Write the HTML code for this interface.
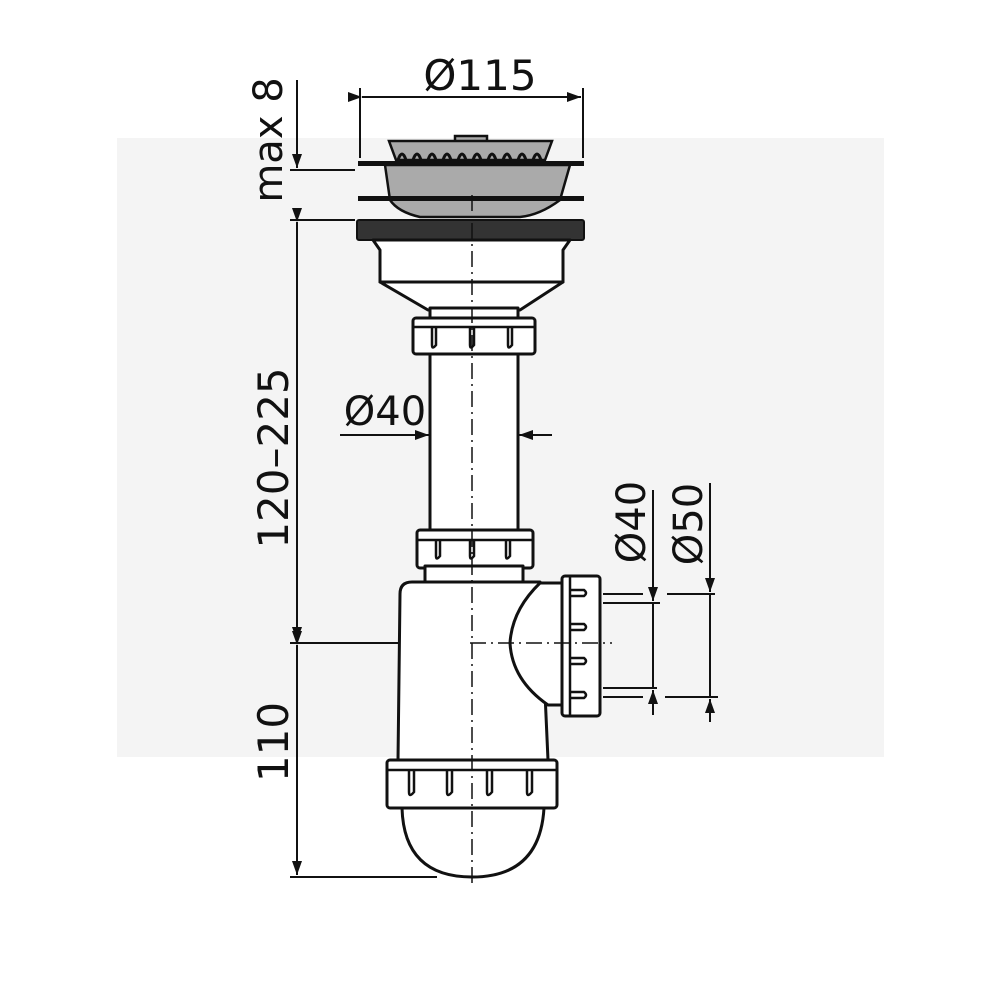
<!DOCTYPE html>
<html><head><meta charset="utf-8"><style>
html,body{margin:0;padding:0;background:#fff}
svg{display:block}
text{font-family:"DejaVu Sans","Liberation Sans",sans-serif;fill:#111}
</style></head><body>
<svg width="1000" height="1000" viewBox="0 0 1000 1000" xmlns="http://www.w3.org/2000/svg">
<defs>
<marker id="a" markerWidth="14" markerHeight="18" refX="14" refY="9" orient="auto" markerUnits="userSpaceOnUse"><path d="M0,4 L14,9 L0,14 Z" fill="#111"/></marker>
</defs>
<rect x="117" y="138" width="767" height="619" fill="#f4f4f4"/>
<g stroke="#111" fill="none" stroke-width="2">
<line x1="360" y1="88" x2="360" y2="158"/><line x1="583" y1="88" x2="583" y2="158"/>
<line x1="362" y1="97" x2="581" y2="97" marker-start="url(#a)" marker-end="url(#a)"/>
<line x1="297" y1="80" x2="297" y2="168" marker-end="url(#a)"/>
<line x1="290" y1="170" x2="355" y2="170"/>
<line x1="290" y1="220" x2="355" y2="220"/>
<line x1="297" y1="222" x2="297" y2="641" marker-start="url(#a)" marker-end="url(#a)"/>
<line x1="290" y1="643" x2="470" y2="643"/>
<line x1="297" y1="645" x2="297" y2="875" marker-start="url(#a)" marker-end="url(#a)"/>
<line x1="290" y1="877" x2="437" y2="877"/>
<line x1="340" y1="435" x2="429" y2="435" marker-end="url(#a)"/>
<line x1="552" y1="435" x2="519" y2="435" marker-end="url(#a)"/>
<line x1="653" y1="490" x2="653" y2="601" marker-end="url(#a)"/>
<line x1="653" y1="715" x2="653" y2="690" marker-end="url(#a)"/>
<line x1="653" y1="603" x2="653" y2="688"/>
<line x1="710" y1="483" x2="710" y2="592" marker-end="url(#a)"/>
<line x1="710" y1="722" x2="710" y2="699" marker-end="url(#a)"/>
<line x1="710" y1="594" x2="710" y2="697"/>
<line x1="603" y1="594" x2="643" y2="594"/><line x1="667" y1="594" x2="715" y2="594"/>
<line x1="603" y1="603" x2="660" y2="603"/>
<line x1="603" y1="688" x2="657" y2="688"/>
<line x1="603" y1="697" x2="643" y2="697"/><line x1="665" y1="697" x2="718" y2="697"/>
</g>
<g stroke="#111" stroke-width="2.5">
<rect x="455" y="136" width="32" height="6" fill="#aaa"/>
<path d="M389 141 L552 141 L545 160 L396 160 Z" fill="#aaa"/>
<path d="M385 165 L570 165 L560 200 Q540 215 520 217 L420 217 Q398 212 390 200 Z" fill="#aaa"/>
</g>
<g stroke="#111" stroke-width="3" fill="none">
<path d="M398 160 q4 -12 8 0 M413 160 q4 -12 8 0 M428 160 q4 -12 8 0 M443 160 q4 -12 8 0 M458 160 q4 -12 8 0 M473 160 q4 -12 8 0 M488 160 q4 -12 8 0 M503 160 q4 -12 8 0 M518 160 q4 -12 8 0 M533 160 q4 -12 8 0"/>
</g>
<rect x="358" y="161" width="226" height="5" fill="#111"/>
<rect x="358" y="196" width="226" height="5" fill="#111"/>
<rect x="357" y="220" width="227" height="20" rx="2" fill="#333" stroke="#111" stroke-width="2"/>
<g stroke="#111" stroke-width="3" fill="#fff" stroke-linejoin="round">
<path d="M373 240 L570 240 L563 250 L563 282 L380 282 L380 250 Z"/>
<path d="M380 282 L563 282 L520 310 L428 310 Z"/>
<rect x="430" y="308" width="88" height="12"/>
<rect x="413" y="318" width="122" height="36" rx="3"/>
<rect x="430" y="354" width="88" height="178"/>
<rect x="417" y="530" width="116" height="38" rx="3"/>
<rect x="425" y="566" width="98" height="16"/>
<path d="M398 760 L400 594 Q400 582 412 582 L540 582 L548 760 Z"/>
<path d="M540 583 Q512 610 510 643 Q512 680 548 705 L562 705 L562 583 Z"/>
<path d="M402 808 Q404 877 472 877 Q540 877 544 808 Z"/>
<rect x="387" y="760" width="170" height="48" rx="3"/>
<rect x="562" y="576" width="38" height="140" rx="3"/>
</g>
<g stroke="#111" stroke-width="2.5" fill="none">
<line x1="413" y1="327" x2="535" y2="327"/>
<line x1="417" y1="540" x2="533" y2="540"/>
<line x1="387" y1="770" x2="557" y2="770"/>
<line x1="570" y1="576" x2="570" y2="716"/>
<path d="M432 327 v18 q0 5 4 0 v-18 M470 327 v18 q0 5 4 0 v-18 M508 327 v18 q0 5 4 0 v-18"/>
<path d="M436 540 v16 q0 5 4 0 v-16 M470 540 v16 q0 5 4 0 v-16 M506 540 v16 q0 5 4 0 v-16"/>
<path d="M409 770 v22 q0 6 5 0 v-22 M447 770 v22 q0 6 5 0 v-22 M487 770 v22 q0 6 5 0 v-22 M527 770 v22 q0 6 5 0 v-22"/>
<path d="M570 590 h14 q4 3 0 6 h-14 M570 624 h14 q4 3 0 6 h-14 M570 658 h14 q4 3 0 6 h-14 M570 692 h14 q4 3 0 6 h-14"/>
</g>
<g stroke="#111" stroke-width="1.5" stroke-dasharray="16,5,2,5" fill="none">
<line x1="472" y1="195" x2="472" y2="885"/>
<line x1="470" y1="643" x2="612" y2="643"/>
</g>
<text x="480" y="90" font-size="42" text-anchor="middle">Ø115</text>
<text x="385" y="425" font-size="40" text-anchor="middle">Ø40</text>
<text transform="translate(282,140) rotate(-90)" font-size="40" text-anchor="middle">max 8</text>
<text transform="translate(288,458) rotate(-90)" font-size="42" text-anchor="middle">120–225</text>
<text transform="translate(288,742) rotate(-90)" font-size="42" text-anchor="middle">110</text>
<text transform="translate(645,522) rotate(-90)" font-size="40" text-anchor="middle">Ø40</text>
<text transform="translate(702,524) rotate(-90)" font-size="40" text-anchor="middle">Ø50</text>
</svg>
</body></html>
